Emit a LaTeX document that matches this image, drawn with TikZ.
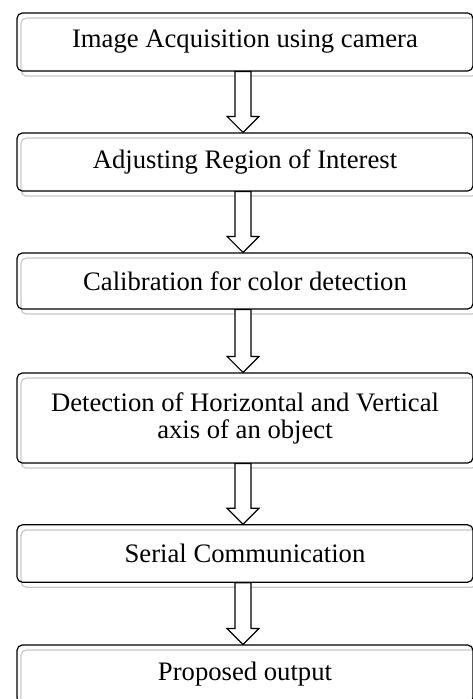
\documentclass[tikz,border=0pt]{standalone}
\usepackage{fontspec}
\setmainfont{Liberation Serif}
\usetikzlibrary{calc}

\tikzset{
  stage/.style={draw=black,line width=0.9pt,rounded corners=4pt,align=center,
    minimum width=342pt,inner sep=0pt,font=\fontsize{20}{20.3}\selectfont,
    preaction={draw=black!22,line width=0.9pt,transform canvas={shift={(3pt,-3.8pt)}}}},
  blockarrow/.style={draw=black,fill=white,line width=0.9pt,line join=miter}
}
\newcommand{\stagearrow}[2]{%
  \draw[blockarrow] ($(#1.south)+(-10,0)$) -- ($(#2.north)+(-10,-16)$) -- ($(#2.north)+(-18,-16)$)
    -- ($(#2.north)+(-2,0)$) -- ($(#2.north)+(14,-16)$) -- ($(#2.north)+(6,-16)$) -- ($(#1.south)+(6,0)$) -- cycle;}

\begin{document}
\begin{tikzpicture}[line cap=round,line join=round,x=0.75pt,y=-0.75pt]
\clip (0,0) rectangle (473,699);
\node[stage,minimum height=43.5pt] (acq) at (245,42) {Image Acquisition using camera};
\node[stage,minimum height=43.5pt] (roi) at (245,162) {Adjusting Region of Interest};
\node[stage,minimum height=42pt] (calib) at (245,281) {Calibration for color detection};
\node[stage,minimum height=67.5pt] (axis) at (245,418) {Detection of Horizontal and Vertical\\axis of an object};
\node[stage,minimum height=43pt] (serial) at (245,553.5) {Serial Communication};
\node[stage,minimum height=43.5pt] (output) at (245,674) {Proposed output};
\stagearrow{acq}{roi}
\stagearrow{roi}{calib}
\stagearrow{calib}{axis}
\stagearrow{axis}{serial}
\stagearrow{serial}{output}
\end{tikzpicture}
\end{document}
